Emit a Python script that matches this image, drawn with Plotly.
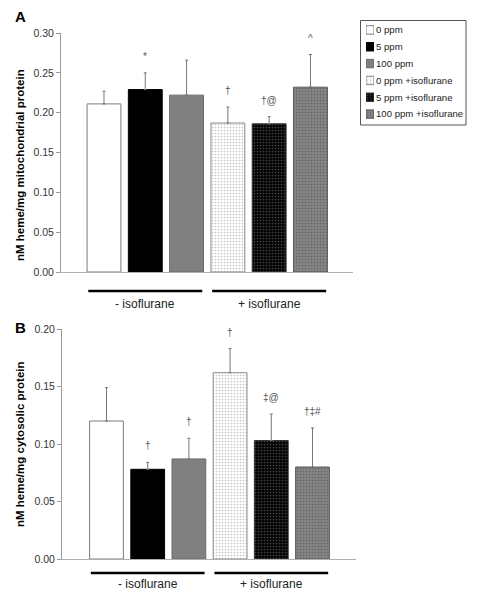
import plotly.graph_objects as go

# ---------------- data ----------------
SERIES = ["0 ppm", "5 ppm", "100 ppm", "0 ppm +isoflurane", "5 ppm +isoflurane", "100 ppm +isoflurane"]

A_VALUES = [0.211, 0.229, 0.222, 0.187, 0.186, 0.232]
A_ERRORS = [0.016, 0.021, 0.044, 0.020, 0.009, 0.041]
A_MARKS = ["", "*", "", "†", "†@", "^"]

B_VALUES = [0.120, 0.078, 0.087, 0.162, 0.103, 0.080]
B_ERRORS = [0.029, 0.006, 0.018, 0.021, 0.023, 0.034]
B_MARKS = ["", "†", "†", "†", "‡@", "†‡#"]

GROUPS = ["- isoflurane", "+ isoflurane"]
GROUP_MEMBERS = [[0, 1, 2], [3, 4, 5]]

A_TICKS = [0.00, 0.05, 0.10, 0.15, 0.20, 0.25, 0.30]
B_TICKS = [0.00, 0.05, 0.10, 0.15, 0.20]
A_TITLE = "nM heme/mg mitochondrial protein"
B_TITLE = "nM heme/mg cytosolic protein"
SWATCH = 1

# ---------------- styles ----------------
PAGE_W, PAGE_H = 479, 599
OFF = 8  # default page body margin
W, H = PAGE_W - 2 * OFF, PAGE_H - 2 * OFF
FONT = "Liberation Sans, Arial, sans-serif"
FILL = ["#ffffff", "#000000", "#808080", "#ffffff", "#050505", "#858585"]
PAT_SHAPE = ["", "", "", ".", ".", "."]
PAT_FG = ["#ffffff", "#000000", "#808080", "#c4c4c4", "#444444", "#666666"]
OUTLINE = ["#7a7a7a", "#000000", "#6a6a6a", "#8a8a8a", "#333333", "#5a5a5a"]


def px_x(p):
    return (p - OFF) / W


def px_y(p):
    return 1 - (p - OFF) / H


def marker(i):
    m = dict(color=FILL[i], line=dict(color=OUTLINE[i], width=1))
    if PAT_SHAPE[i]:
        m["pattern"] = dict(shape=PAT_SHAPE[i], fgcolor=PAT_FG[i], fgopacity=1,
                            size=3, solidity=0.25, fillmode="overlay")
    return m


fig = go.Figure()

for vals, errs, xa, ya in [(A_VALUES, A_ERRORS, "x", "y"), (B_VALUES, B_ERRORS, "x2", "y2")]:
    for i, name in enumerate(SERIES):
        fig.add_trace(go.Bar(
            x=[i], y=[vals[i]], name=name, xaxis=xa, yaxis=ya, marker=marker(i),
            showlegend=False, hoverinfo="skip",
            error_y=dict(type="data", array=[errs[i]], arrayminus=[0], symmetric=False,
                         color="#777777", thickness=1, width=1.5),
        ))

# legend swatches drawn as a tiny bar subplot
for i, name in enumerate(SERIES):
    fig.add_trace(go.Bar(
        x=[SWATCH], y=[name], orientation="h", xaxis="x3", yaxis="y3", width=0.5,
        marker=marker(i), showlegend=False, hoverinfo="skip",
    ))

BAR_GAP = 0.18
half = (1 - BAR_GAP) / 2 - 0.03

axis_common = dict(showgrid=False, zeroline=False, fixedrange=True, automargin=False)
fig.update_layout(
    width=W, height=H,
    margin=dict(l=0, r=0, t=0, b=0, pad=0, autoexpand=False),
    paper_bgcolor="white", plot_bgcolor="white",
    font=dict(family=FONT, color="#222222"),
    bargap=BAR_GAP, barmode="overlay",
    showlegend=False,
    xaxis=dict(domain=[px_x(61), px_x(353)], range=[-1.041, 6.03], anchor="y",
               showline=True, linecolor="#b0b0b0", linewidth=1, showticklabels=False,
               ticks="", **axis_common),
    yaxis=dict(domain=[px_y(272), px_y(33)], range=[0, 0.30], anchor="x",
               tickvals=A_TICKS, tickformat=".2f", ticks="outside", ticklen=4,
               tickcolor="#999999", showline=True, linecolor="#999999", linewidth=1,
               tickfont=dict(size=10.5, color="#333333"), **axis_common),
    xaxis2=dict(domain=[px_x(62), px_x(356)], range=[-1.08, 6.056], anchor="y2",
                showline=True, linecolor="#b0b0b0", linewidth=1, showticklabels=False,
                ticks="", **axis_common),
    yaxis2=dict(domain=[px_y(559), px_y(329)], range=[0, 0.20], anchor="x2",
                tickvals=B_TICKS, tickformat=".2f", ticks="outside", ticklen=4,
                tickcolor="#999999", showline=True, linecolor="#999999", linewidth=1,
                tickfont=dict(size=10.5, color="#333333"), **axis_common),
    xaxis3=dict(domain=[px_x(366), px_x(374)], range=[0, 1], anchor="y3",
                visible=False, **axis_common),
    yaxis3=dict(domain=[px_y(122.5), px_y(21.5)], anchor="x3", side="right",
                autorange="reversed", showline=False, ticks="", ticklabelstandoff=1,
                tickfont=dict(size=9.6, color="#222222"), **axis_common),
)

shapes = []
annotations = []

# legend border
shapes.append(dict(type="rect", xref="paper", yref="paper",
                   x0=px_x(360.5), x1=px_x(466), y0=px_y(125), y1=px_y(20.5),
                   line=dict(color="#555555", width=1)))

# group lines and labels
for xa, line_y, text_y in [("x", 291, 303.5), ("x2", 573, 583.5)]:
    for name, members in zip(GROUPS, GROUP_MEMBERS):
        shapes.append(dict(type="line", xref=xa, yref="paper",
                           x0=min(members) - half, x1=max(members) + half,
                           y0=px_y(line_y), y1=px_y(line_y),
                           line=dict(color="#000000", width=2.5)))
        annotations.append(dict(xref=xa, yref="paper", x=sum(members) / len(members),
                                y=px_y(text_y), text=name, showarrow=False,
                                xanchor="center", yanchor="middle",
                                font=dict(size=12, color="#222222")))

# significance marks
for vals, errs, marks, xa, ya in [(A_VALUES, A_ERRORS, A_MARKS, "x", "y"),
                                  (B_VALUES, B_ERRORS, B_MARKS, "x2", "y2")]:
    for i, (v, e, m) in enumerate(zip(vals, errs, marks)):
        if m:
            annotations.append(dict(xref=xa, yref=ya, x=i, y=v + e, text=m,
                                    showarrow=False, xanchor="center", yanchor="bottom",
                                    yshift=9, font=dict(size=10, color="#555555")))

# y-axis titles
for title, yc in [(A_TITLE, 165), (B_TITLE, 444)]:
    annotations.append(dict(xref="paper", yref="paper", x=px_x(20), y=px_y(yc), text=title,
                            textangle=-90, showarrow=False, xanchor="center", yanchor="middle",
                            font=dict(size=11.5, color="#000000", family=FONT, weight="bold")))

# panel letters
for letter, yy in [("A", 16.5), ("B", 327.5)]:
    annotations.append(dict(xref="paper", yref="paper", x=px_x(20.5), y=px_y(yy), text=letter,
                            showarrow=False, xanchor="center", yanchor="middle",
                            font=dict(size=15, color="#000000", family=FONT, weight="bold")))

fig.update_layout(shapes=shapes, annotations=annotations)
fig.write_html("out.html")
